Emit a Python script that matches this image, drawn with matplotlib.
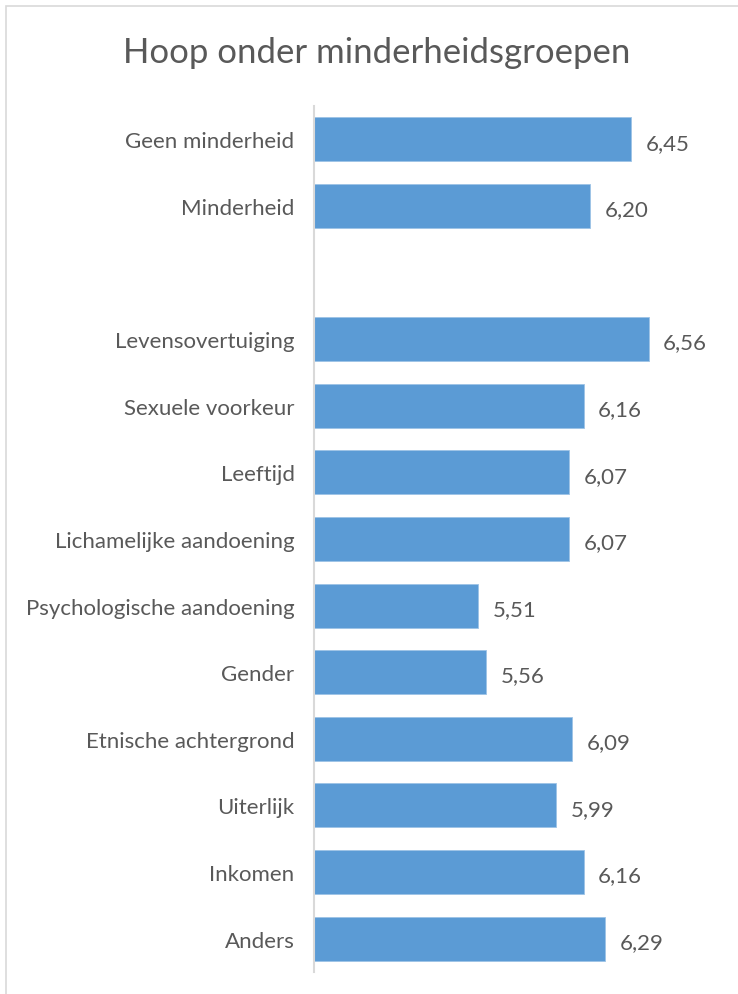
import matplotlib
matplotlib.use('Agg')
from matplotlib import pyplot
from matplotlib.patches import Rectangle

categories = ['Geen minderheid', 'Minderheid', '',
              'Levensovertuiging', 'Sexuele voorkeur', 'Leeftijd',
              'Lichamelijke aandoening', 'Psychologische aandoening', 'Gender',
              'Etnische achtergrond', 'Uiterlijk', 'Inkomen', 'Anders']
values = [6.45, 6.20, None, 6.56, 6.16, 6.07, 6.07, 5.51, 5.56, 6.09, 5.99, 6.16, 6.29]

text_color = '#595959'
bar_color = '#5B9BD5'
font = ['Lato', 'DejaVu Sans']

fig = pyplot.figure(figsize=(7.38, 9.95), dpi=100)
W, H = 738, 995
ax = fig.add_axes([314 / W, 1 - 973 / H, (720 - 314) / W, (973 - 107) / H])

xmin = 4.5
pos = list(range(len(categories)))
for i, v in zip(pos, values):
  if v is None:
    continue
  ax.barh(i, v - xmin, left=xmin, height=0.66, color=bar_color,
          edgecolor='#9DC3E6', linewidth=0.6)
  ax.text(v + 0.09, i + 0.05, f'{v:.2f}'.replace('.', ','), ha='left', va='center',
          fontsize=16, color=text_color, family=font)

ax.set_xlim(xmin, 7.0)
ax.set_ylim(len(categories) - 0.5, -0.5)
ax.set_yticks(pos)
ax.set_yticklabels(categories, fontsize=16, color=text_color, family=font)
ax.tick_params(axis='y', length=0, pad=14)
ax.set_xticks([])
for s in ['top', 'right', 'bottom']:
  ax.spines[s].set_visible(False)
ax.spines['left'].set_color('#D9D9D9')
ax.spines['left'].set_linewidth(1.5)

fig.text(377 / W, 1 - 53 / H, 'Hoop onder minderheidsgroepen', ha='center', va='center',
         fontsize=25, color=text_color, family=font)

fig.patches.append(Rectangle((6 / W, -0.05), 1.1, 1 - 7 / H + 0.05, transform=fig.transFigure,
                             fill=False, edgecolor='#D9D9D9', linewidth=1.2))

fig.savefig('out.png', dpi=100)
